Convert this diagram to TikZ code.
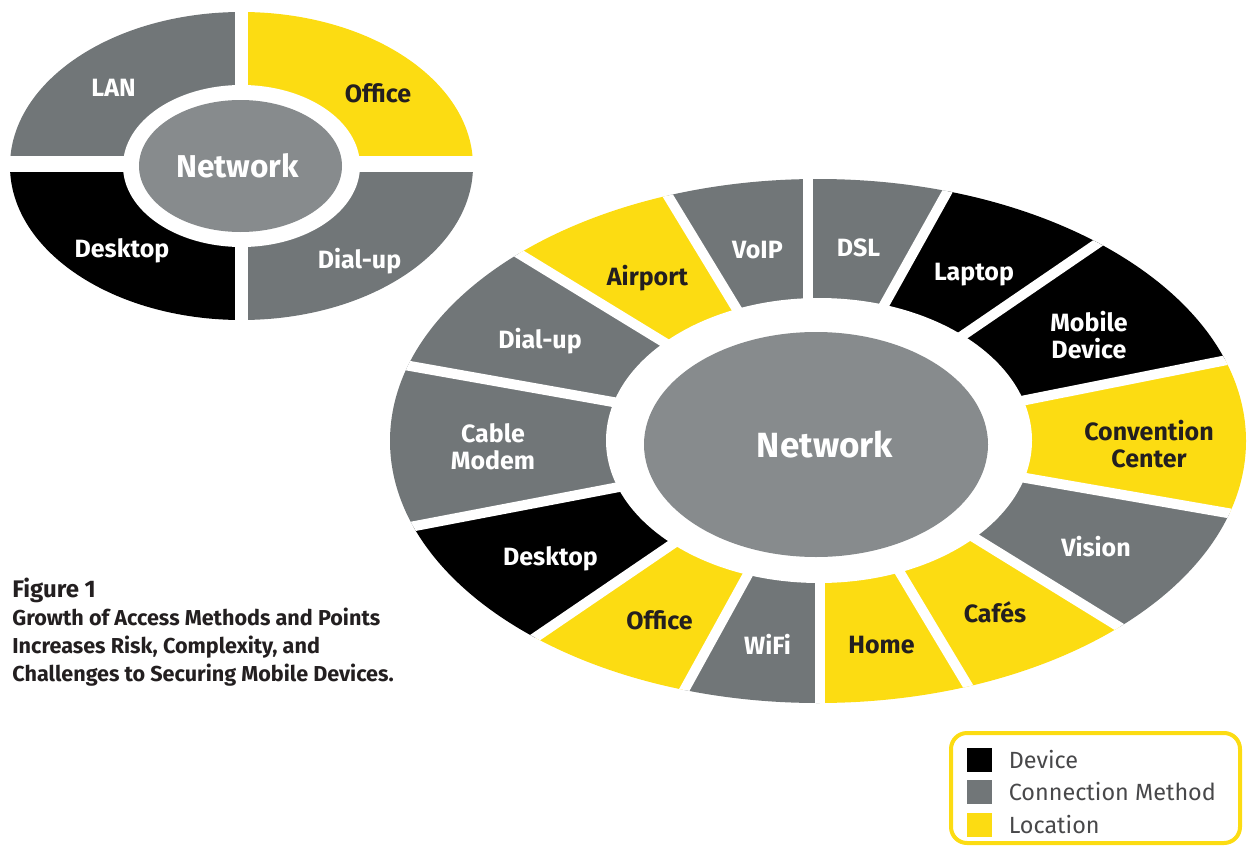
\documentclass[tikz,border=0pt]{standalone}
\usepackage{fontspec}
\setmainfont{Fira Sans}
\usetikzlibrary{positioning}
\definecolor{mgray}{HTML}{717678}
\definecolor{hubgray}{HTML}{878B8D}
\definecolor{myellow}{HTML}{FCDC12}
\definecolor{ink}{HTML}{231F20}
\definecolor{keytext}{HTML}{48484A}

\begin{document}
\begin{tikzpicture}[x=0.5pt, y=-0.5pt,
    gap/.style={white, line width=5pt},
    lbl/.style={anchor=base, font=\bfseries\fontsize{12.5}{13.25}\selectfont, text=white, align=center, inner sep=0pt},
    lbldark/.style={lbl, text=ink},
    hub/.style={anchor=base, font=\bfseries\fontsize{17.5}{20}\selectfont, text=white, inner sep=0pt},
    key/.style={minimum width=12.5pt, minimum height=12pt, inner sep=0pt},
    keylabel/.style={font=\fontsize{11.7}{13}\selectfont, text=keytext, inner sep=0pt}]
    \useasboundingbox (0,0) rectangle (1248,846);

    % small ring
    \begin{scope}
        \clip (241.5,166) ellipse [x radius=231.5, y radius=154];
        \fill[mgray] (0,0) rectangle (241,164);
        \fill[myellow] (241,0) rectangle (480,164);
        \fill[black] (0,164) rectangle (241,330);
        \fill[mgray] (241,164) rectangle (480,330);
    \end{scope}
    \fill[white] (241.5,166) ellipse [x radius=118.5, y radius=81];
    \draw[white, line width=6.5pt] (241,0) -- (241,330);
    \draw[white, line width=8pt] (0,164) -- (480,164);
    \fill[hubgray] (240.5,166) ellipse [x radius=101.5, y radius=66];

    \node[lbl] (lan) at (113.5,96) {LAN};
    \node[lbldark] (office) at (378,102) {Office};
    \node[lbl] (desktop) at (122,257) {Desktop};
    \node[lbl] (dialup) at (359.5,268) {Dial-up};
    \node[hub, font=\bfseries\fontsize{15.8}{18}\selectfont] (net) at (237.5,177) {Network};

    % big ring
    \begin{scope}
        \clip (818,441) ellipse [x radius=428, y radius=262];
        \coordinate (i1) at (807.5,360);   \coordinate (o1) at (807.5,60);
        \coordinate (i2) at (851.5,363.5); \coordinate (o2) at (1009,81);
        \coordinate (i3) at (891,384.5);   \coordinate (o3) at (1231,152);
        \coordinate (i4) at (920.5,421);   \coordinate (o4) at (1423,321);
        \coordinate (i5) at (922,460);     \coordinate (o5) at (1432,548.5);
        \coordinate (i6) at (902,493);     \coordinate (o6) at (1264.5,716.5);
        \coordinate (i7) at (866,516);     \coordinate (o7) at (1036,799.5);
        \coordinate (i8) at (819.5,520);   \coordinate (o8) at (819.5,820);
        \coordinate (i9) at (779.5,517);   \coordinate (o9) at (622,803);
        \coordinate (i10) at (740.75,497.5); \coordinate (o10) at (399.5,730);
        \coordinate (i11) at (718.5,468);  \coordinate (o11) at (213.5,564.5);
        \coordinate (i12) at (714.5,420);  \coordinate (o12) at (207,330);
        \coordinate (i13) at (735.5,386);  \coordinate (o13) at (375.5,166);
        \coordinate (i14) at (770,363.75); \coordinate (o14) at (599,82.5);

        \fill[mgray] (i14) -- (o14) -- (o1) -- (i1) -- cycle;
        \fill[mgray] (i1) -- (o1) -- (o2) -- (i2) -- cycle;
        \fill[black] (i2) -- (o2) -- (o3) -- (i3) -- cycle;
        \fill[black] (i3) -- (o3) -- (o4) -- (i4) -- cycle;
        \fill[myellow] (i4) -- (o4) -- (o5) -- (i5) -- cycle;
        \fill[mgray] (i5) -- (o5) -- (o6) -- (i6) -- cycle;
        \fill[myellow] (i6) -- (o6) -- (o7) -- (i7) -- cycle;
        \fill[myellow] (i7) -- (o7) -- (o8) -- (i8) -- cycle;
        \fill[mgray] (i8) -- (o8) -- (o9) -- (i9) -- cycle;
        \fill[myellow] (i9) -- (o9) -- (o10) -- (i10) -- cycle;
        \fill[black] (i10) -- (o10) -- (o11) -- (i11) -- cycle;
        \fill[mgray] (i11) -- (o11) -- (o12) -- (i12) -- cycle;
        \fill[mgray] (i12) -- (o12) -- (o13) -- (i13) -- cycle;
        \fill[myellow] (i13) -- (o13) -- (o14) -- (i14) -- cycle;

        \draw[gap] (i1) -- (o1); \draw[gap] (i2) -- (o2); \draw[gap] (i3) -- (o3);
        \draw[gap] (i4) -- (o4); \draw[gap] (i5) -- (o5); \draw[gap] (i6) -- (o6);
        \draw[gap] (i7) -- (o7); \draw[gap] (i8) -- (o8); \draw[gap] (i9) -- (o9);
        \draw[gap] (i10) -- (o10); \draw[gap] (i11) -- (o11); \draw[gap] (i12) -- (o12);
        \draw[gap] (i13) -- (o13); \draw[gap] (i14) -- (o14);
    \end{scope}
    \fill[white] (819,440.5) ellipse [x radius=213, y radius=142.5];
    \fill[hubgray] (816,444.5) ellipse [x radius=172, y radius=112.5];

    \node[lbl] (voip) at (757.5,258) {VoIP};
    \node[lbl] (dsl) at (858.5,256) {DSL};
    \node[lbl] (laptop) at (974,280) {Laptop};
    \node[lbl] (mobile) at (1089,358) {Mobile\\Device};
    \node[lbldark] (convention) at (1149,467) {Convention\\Center};
    \node[lbl] (vision) at (1096,556) {Vision};
    \node[lbldark] (cafes) at (995,622) {Cafés};
    \node[lbldark] (home) at (881.5,653) {Home};
    \node[lbl] (wifi) at (767.5,654) {WiFi};
    \node[lbldark] (office2) at (659.5,629) {Office};
    \node[lbl] (desktop2) at (550.5,565) {Desktop};
    \node[lbl] (cable) at (493,469) {Cable\\Modem};
    \node[lbl] (dialup2) at (540,348) {Dial-up};
    \node[lbldark] (airport) at (647.5,285) {Airport};
    \node[hub] (net2) at (825,457) {Network};

    % caption
    \node[anchor=base west, align=left, inner sep=0pt, text=ink,
          font=\bfseries\fontsize{10.8}{14}\selectfont] (caption) at (12,681)
        {{\fontsize{12}{14}\selectfont Figure 1}\\Growth of Access Methods and Points\\Increases Risk, Complexity, and\\Challenges to Securing Mobile Devices.};

    % legend
    \draw[myellow, line width=2pt, rounded corners=8pt] (951,733) rectangle (1240,843);
    \node[key, fill=black] (kdev) at (979.5,760) {};
    \node[key, fill=mgray] (kcon) at (979.5,792) {};
    \node[key, fill=myellow] (kloc) at (979.5,824.5) {};
    \node[keylabel, right=8pt of kdev] (tdev) {Device};
    \node[keylabel, right=8pt of kcon] (tcon) {Connection Method};
    \node[keylabel, right=8pt of kloc] (tloc) {Location};
\end{tikzpicture}
\end{document}
